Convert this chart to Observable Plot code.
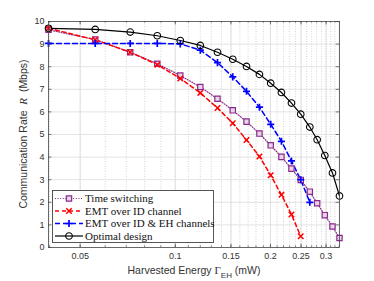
<!DOCTYPE html>
<html>
<head>
<meta charset="utf-8">
<script src="https://cdn.jsdelivr.net/npm/d3@7"></script>
<script src="https://cdn.jsdelivr.net/npm/@observablehq/plot@0.6"></script>
<style>
  html, body { margin: 0; padding: 0; background: white; }
</style>
</head>
<body>
<div id="chart"></div>
<script>
// Harvested energy (mW), shared x positions
const energy = [0.0397, 0.0558, 0.0720, 0.0877, 0.1037, 0.1200, 0.1360, 0.1520, 0.1680, 0.1846,
                0.2004, 0.2167, 0.2331, 0.2494, 0.2665, 0.2811, 0.2972, 0.3143, 0.3308];
// Communication rate (Mbps)
const optimalDesign = [9.70, 9.65, 9.53, 9.37, 9.16, 8.94, 8.64, 8.33, 8.01, 7.66,
                       7.27, 6.86, 6.39, 5.90, 5.33, 4.77, 4.07, 3.30, 2.28];
const timeSwitching = [9.63, 9.20, 8.64, 8.13, 7.61, 7.10, 6.58, 6.07, 5.57, 5.04,
                       4.52, 4.01, 3.49, 2.99, 2.47, 1.96, 1.43, 0.93, 0.42];
const emtId = [9.70, 9.19, 8.64, 8.09, 7.48, 6.84, 6.17, 5.50, 4.76, 4.03, 3.20, 2.33, 1.46, 0.50];
const emtIdEh = [9.03, 9.03, 9.03, 9.03, 9.01, 8.73, 8.18, 7.55, 6.91, 6.21, 5.45, 4.70, 3.83, 3.00, 2.00];

const seriesNames = ["Time switching", "EMT over ID channel", "EMT over ID & EH channels", "Optimal design"];

const xTicks = [0.05, 0.1, 0.15, 0.2, 0.25, 0.3];
const xTickLabels = ["0.05", "0.1", "0.15", "0.2", "0.25", "0.3"];
const xMinor = [0.04, 0.05, 0.06, 0.07, 0.08, 0.09, 0.10, 0.11, 0.12, 0.13, 0.14, 0.15, 0.16, 0.17, 0.18,
                0.19, 0.20, 0.21, 0.22, 0.23, 0.24, 0.25, 0.26, 0.27, 0.28, 0.29, 0.30, 0.31, 0.32, 0.33];
const yTicks = [0, 1, 2, 3, 4, 5, 6, 7, 8, 9, 10];

const xDomain = [0.0397, 0.3308];
const toRows = (ys) => ys.map((y, i) => ({x: energy[i], y}));

const styles = [
  {data: toRows(timeSwitching), stroke: "#8B2A8B", width: 1.2, dash: "1,1.6", symbol: "square", r: 3.0, fill: "#e6d6e6", mw: 1.2},
  {data: toRows(emtId), stroke: "#ff0000", width: 1.5, dash: "4,3", symbol: "times", r: 2.6, fill: "none", mw: 1.5},
  {data: toRows(emtIdEh), stroke: "#0000ff", width: 1.5, dash: "5,3", symbol: "plus", r: 2.4, fill: "none", mw: 1.7},
  {data: toRows(optimalDesign), stroke: "#000000", width: 1.2, dash: null, symbol: "circle", r: 3.3, fill: "none", mw: 1.1}
];

const marks = [
  Plot.ruleX(xMinor, {stroke: "#c4c4c4", strokeWidth: 0.7, strokeDasharray: "1,1.5"}),
  Plot.ruleX(xTicks, {stroke: "#dcdcdc", strokeWidth: 0.8}),
  Plot.ruleY(yTicks.slice(1, -1), {stroke: "#dcdcdc", strokeWidth: 0.8}),
  // inward tick marks
  Plot.ruleX(xMinor, {y1: 0, y2: 0.08, stroke: "#444", strokeWidth: 0.6}),
  Plot.ruleX(xMinor, {y1: 10, y2: 9.92, stroke: "#444", strokeWidth: 0.6}),
  Plot.ruleX(xTicks, {y1: 0, y2: 0.15, stroke: "#444", strokeWidth: 0.7}),
  Plot.ruleX(xTicks, {y1: 10, y2: 9.85, stroke: "#444", strokeWidth: 0.7}),
  Plot.ruleY(yTicks, {x1: xDomain[0], x2: xDomain[0] * 1.025, stroke: "#444", strokeWidth: 0.7}),
  Plot.ruleY(yTicks, {x1: xDomain[1] / 1.025, x2: xDomain[1], stroke: "#444", strokeWidth: 0.7}),
];
for (const s of styles) {
  marks.push(Plot.line(s.data, {x: "x", y: "y", stroke: s.stroke, strokeWidth: s.width, strokeDasharray: s.dash}));
}
for (const s of styles) {
  marks.push(Plot.dot(s.data, {x: "x", y: "y", symbol: () => s.symbol, r: s.r, stroke: s.stroke, fill: s.fill, strokeWidth: s.mw}));
}
marks.push(
  Plot.frame({stroke: "#444", strokeWidth: 0.8}),
  Plot.text(xTicks, {x: d => d, frameAnchor: "bottom", dy: 5, lineAnchor: "top",
                     text: (d, i) => xTickLabels[i], fill: "#333", fontSize: 9}),
  Plot.axisY(yTicks, {tickSize: 0, tickPadding: 4, tickFormat: d => String(d), label: null, fill: "#333"})
);

const chart = Plot.plot({
  width: 374,
  height: 281,
  marginLeft: 48,
  marginRight: 35,
  marginTop: 21,
  marginBottom: 34,
  x: {type: "log", domain: xDomain, axis: null},
  y: {domain: [0, 10]},
  style: {fontFamily: "'Liberation Sans', Arial, sans-serif", fontSize: "9px", background: "white", color: "#333"},
  marks
});

const svg = d3.select(chart);

// X axis label
const xl = svg.append("text")
  .attr("x", 194).attr("y", 274)
  .attr("text-anchor", "middle")
  .attr("fill", "#333")
  .style("font-family", "'Liberation Sans', Arial, sans-serif")
  .style("font-size", "10.5px");
xl.append("tspan").text("Harvested Energy ");
xl.append("tspan").text("Γ").style("font-family", "'Liberation Serif', 'DejaVu Serif', serif").style("font-size", "11px");
xl.append("tspan").text("EH").attr("dy", 3.5).style("font-size", "8px");
xl.append("tspan").text(" (mW)").attr("dy", -3.5);

// Y axis label
const yl = svg.append("text")
  .attr("transform", "translate(27,134) rotate(-90)")
  .attr("text-anchor", "middle")
  .attr("fill", "#333")
  .style("font-family", "'Liberation Sans', Arial, sans-serif")
  .style("font-size", "10.5px");
yl.append("tspan").text("Communication Rate\u00A0\u00A0");
yl.append("tspan").text("R").style("font-family", "'Liberation Serif', 'DejaVu Serif', serif").style("font-style", "italic").style("font-size", "11px");
yl.append("tspan").text("\u00A0\u00A0(Mbps)");

// Legend
const lg = svg.append("g").attr("text-anchor", "start");
lg.append("rect").attr("x", 52.5).attr("y", 190.5).attr("width", 161).attr("height", 52)
  .attr("fill", "white").attr("stroke", "#444").attr("stroke-width", 0.9);
const symbolMap = {square: d3.symbolSquare, times: d3.symbolTimes, plus: d3.symbolPlus, circle: d3.symbolCircle};
styles.forEach((s, i) => {
  const cy = 198.5 + i * 12.5;
  lg.append("line").attr("x1", 55).attr("x2", 83).attr("y1", cy).attr("y2", cy)
    .attr("stroke", s.stroke).attr("stroke-width", s.width)
    .attr("stroke-dasharray", s.dash);
  lg.append("path").attr("transform", `translate(69,${cy})`)
    .attr("d", d3.symbol(symbolMap[s.symbol], Math.PI * s.r * s.r)())
    .attr("stroke", s.stroke).attr("fill", s.fill).attr("stroke-width", s.mw);
  lg.append("text").attr("x", 85).attr("y", cy).attr("dy", "0.35em")
    .attr("text-anchor", "start")
    .attr("fill", "#111")
    .style("font-family", "'Liberation Serif', 'Times New Roman', serif")
    .style("font-size", "11px")
    .text(seriesNames[i]);
});

document.getElementById("chart").appendChild(chart);
</script>
</body>
</html>
